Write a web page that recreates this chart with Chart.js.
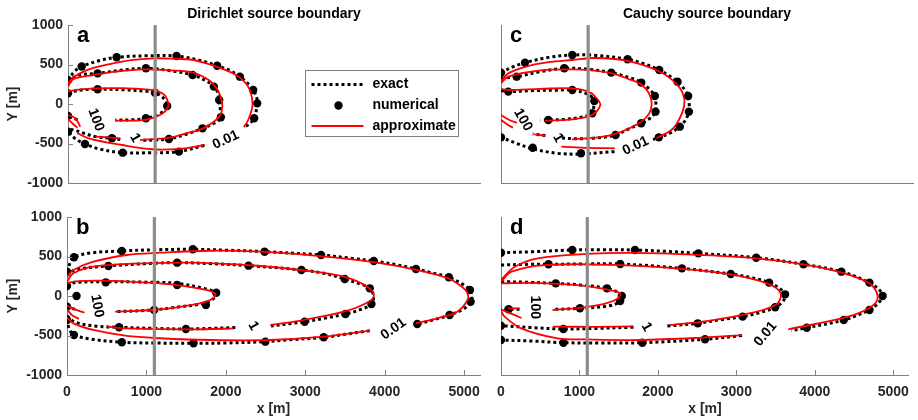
<!DOCTYPE html>
<html>
<head>
<meta charset="utf-8">
<script src="https://cdn.jsdelivr.net/npm/chart.js@4.4.1/dist/chart.umd.min.js"></script>
<style>
body{margin:0;background:#fff;width:918px;height:420px;position:relative;overflow:hidden}
canvas{position:absolute}
</style>
</head>
<body>
<canvas id="pa" width="490" height="200" style="left:0;top:0"></canvas>
<canvas id="pc" width="438" height="200" style="left:480px;top:0"></canvas>
<canvas id="pb" width="490" height="220" style="left:0;top:200px"></canvas>
<canvas id="pd" width="438" height="220" style="left:480px;top:200px"></canvas>
<script>
// axes
var xTicks=[0,1000,2000,3000,4000,5000];
var yTicks=[-1000,-500,0,500,1000];
var sourceX=1100;

// panel a : Dirichlet, short plume
var aExact001=[[0,300],[80,410],[173,475],[400,550],[614,591],[1000,610],[1370,607],[1650,555],[1883,485],[2050,420],[2169,346],[2280,250],[2337,177],[2380,90],[2388,8],[2375,-90],[2350,-181],[2290,-250],[2220,-300],null,[1720,-525],[1400,-603],[1000,-618],[690,-616],[400,-570],[214,-506],[80,-430],[0,-350]];
var aDots001=[[0,304],[173,475],[614,591],[1370,607],[1883,485],[2169,346],[2337,177],[2388,8],[2350,-181],[1400,-603],[690,-616],[214,-506],[0,-350]];
var aApprox001=[[0,262],[60,330],[151,388],[300,450],[530,506],[800,555],[1076,578],[1300,575],[1580,557],[1850,480],[2085,388],[2220,290],[2295,177],[2329,-13],[2274,-203],[2219,-295],null,[1728,-519],[1437,-565],[1059,-573],[681,-519],[260,-434],[114,-367]];
var aExact1=[[0,280],[120,360],[374,388],[700,430],[984,452],[1300,420],[1572,367],[1750,290],[1841,220],[1900,130],[1908,51],[1920,-50],[1929,-168],[1850,-240],[1698,-308],[1500,-380],[1274,-443],[1100,-455],[920,-460],null,[660,-450],[555,-434],[345,-413],[200,-370],[80,-330],[0,-320]];
var aDots1=[[374,388],[984,452],[1572,367],[1841,220],[1908,51],[1929,-168],[1698,-308],[1274,-443],[555,-434]];
var aApprox1=[[0,220],[67,313],[319,367],[600,410],[950,439],[1300,425],[1580,397],[1780,300],[1875,199],[1946,9],[1908,-160],[1706,-308],[1500,-370],[1286,-426],[908,-456],null,[660,-434],[345,-413]];
var aExact100=[[0,135],[150,175],[374,186],[700,180],[1000,160],[1097,143],[1200,80],[1252,-25],[1150,-130],[984,-181],[800,-200],[597,-203],null,[120,-200],[0,-150]];
var aDots100=[[0,135],[374,186],[1097,143],[1252,-25],[984,-181],[0,-150]];
var aApprox100=[[0,157],[100,180],[374,199],[700,200],[1076,177],[1200,130],[1245,72],[1265,-34],[1160,-139],[950,-203],[593,-211],null,[0,-139],[92,-181],[155,-287],null,[0,-190],[60,-250],[120,-300]];
var aLabels=[["100",353,-200,70],["1",845,-430,60],["0.01",1992,-456,-25]];

// panel c : Cauchy, short plume
var cExact001=[[0,396],[150,470],[303,523],[600,590],[900,620],[1200,615],[1598,566],[1800,510],[1997,430],[2130,350],[2228,282],[2320,180],[2362,101],[2375,0],[2371,-97],[2330,-200],[2257,-287],[2130,-370],[1992,-422],[1920,-450],null,[1433,-603],[1013,-633],[719,-625],[405,-569],[200,-500],[0,-422]];
var cDots001=[[0,396],[303,523],[900,620],[1598,566],[1997,430],[2228,282],[2362,101],[2371,-97],[2257,-287],[1992,-422],[1009,-624],[400,-553],[0,-422]];
var cApprox001=[[0,282],[92,388],[345,481],[600,530],[896,557],[1190,582],[1606,544],[2005,409],[2228,240],[2312,72],[2291,-97],[2173,-308],[1963,-434],null,[1437,-561],[1100,-555],[762,-540]];
var cExact1=[[0,325],[198,346],[500,410],[799,452],[1100,440],[1392,397],[1600,340],[1770,271],[1880,180],[1942,101],[1955,0],[1950,-97],[1880,-180],[1770,-244],[1600,-320],[1446,-392],[1200,-430],[950,-440],[760,-430],null,[560,-400],[400,-380]];
var cDots1=[[198,346],[799,452],[1392,397],[1770,271],[1942,101],[1950,-97],[1770,-244],[1446,-392]];
var cApprox1=[[0,262],[92,346],[471,423],[896,439],[1150,425],[1400,388],[1600,320],[1778,240],[1892,72],[1871,-118],[1702,-266],[1400,-392],[1150,-430],[896,-447],null,[560,-400],[420,-385]];
var cExact100=[[0,170],[92,157],[400,170],[700,175],[900,177],[1100,120],[1178,38],[1170,-40],[1152,-118],[1000,-170],[800,-195],[597,-203],[500,-205]];
var cDots100=[[92,157],[900,177],[1178,38],[1152,-118],[597,-203]];
var cApprox100=[[0,190],[92,177],[500,192],[896,199],[1100,160],[1190,92],[1253,-13],[1148,-139],[896,-194],[555,-211],null,[0,-140],[100,-200],[200,-240],null,[0,-200],[80,-260],[150,-300]];
var cLabels=[["100",278,-203,60],["1",720,-430,60],["0.01",1700,-532,-25]];

// panel b : Dirichlet, long plume
var bExact001=[[0,308],[40,420],[88,490],[300,545],[690,570],[1100,585],[1585,591],[2000,580],[2488,561],[3199,519],[3600,475],[3863,443],[4150,395],[4394,342],[4650,280],[4808,237],[4980,150],[5073,76],[5100,0],[5082,-72],[5000,-160],[4817,-241],[4600,-305],[4410,-354],[4376,-360],null,[3812,-439],[3500,-485],[3232,-523],[2800,-555],[2497,-578],[2000,-595],[1593,-599],[1100,-595],[690,-586],[300,-545],[88,-494],[30,-420],[0,-304]];
var bDots001=[[0,308],[88,490],[690,570],[1585,591],[2488,561],[3199,519],[3863,443],[4394,342],[4808,237],[5073,76],[5082,-72],[4817,-241],[4410,-354],[3232,-523],[2497,-578],[1593,-599],[690,-586],[88,-494],[0,-304]];
var bApprox001=[[0,245],[80,329],[333,434],[753,519],[1173,548],[1804,573],[2434,561],[3190,506],[3863,430],[4410,329],[4808,220],[4980,110],[5043,34],[5043,-51],[4914,-199],[4662,-282],[4389,-346],null,[3812,-439],[3232,-515],[2560,-557],[1804,-557],[1173,-535],[753,-506],[333,-430],[80,-346],[0,-270]];
var bExact1=[[0,260],[100,330],[521,380],[1000,410],[1387,422],[1800,410],[2286,384],[2951,329],[3250,285],[3497,215],[3700,150],[3812,97],[3860,0],[3833,-101],[3700,-170],[3506,-228],[3250,-280],[2992,-325],[2800,-350],[2569,-380],null,[2119,-400],[1800,-410],[1497,-418],[1100,-410],[656,-396],[350,-380],[100,-330],[0,-250]];
var bDots1=[[521,380],[1387,422],[2286,384],[2951,329],[3497,215],[3812,97],[3833,-101],[3506,-228],[2992,-325],[1497,-418],[656,-396]];
var bApprox1=[[0,181],[80,287],[333,371],[963,413],[1594,422],[2434,380],[2938,329],[3485,244],[3780,118],[3863,13],[3800,-72],[3485,-199],[2976,-304],[2560,-367],null,[2098,-409],[1594,-422],[753,-409],[501,-388]];
var bExact100=[[0,130],[100,170],[467,181],[1000,175],[1383,160],[1719,97],[1870,42],[1849,-29],[1719,-92],[1400,-140],[1076,-177],[605,-199],null,[100,-170],[0,-135]];
var bDots100=[[0,127],[488,173],[1387,139],[1879,42],[1749,-114],[1097,-177],[120,0],[0,-135]];
var bApprox100=[[0,160],[100,185],[458,194],[1000,170],[1383,139],[1753,76],[1870,13],[1753,-72],[1383,-143],[1076,-177],[605,-199],null,[0,-120],[100,-170],[220,-210],null,[0,-170],[60,-240],[150,-290]];
var bLabels=[["100",378,-127,80],["1",2345,-380,60],["0.01",4111,-418,-35]];

// panel d : Cauchy, long plume
var dExact001=[[0,548],[400,560],[909,582],[1300,585],[1708,582],[2100,565],[2516,540],[3253,485],[3855,401],[4339,308],[4697,169],[4820,80],[4865,0],[4800,-100],[4697,-177],[4369,-304],[3898,-401],[3700,-440],null,[3073,-500],[2601,-548],[1802,-591],[1300,-595],[795,-591],[400,-570],[0,-557]];
var dDots001=[[0,548],[909,582],[1708,582],[2516,540],[3253,485],[3855,401],[4339,308],[4697,169],[4865,0],[4697,-177],[4369,-304],[3898,-401],[2601,-548],[1802,-591],[795,-591],[0,-557]];
var dApprox001=[[0,203],[177,371],[471,477],[1098,532],[1688,545],[2500,520],[3257,477],[3855,401],[4298,308],[4697,160],[4802,-8],[4718,-135],[4424,-261],[3662,-422],null,[3073,-494],[2500,-530],[1769,-557],[1100,-550],[720,-535],[256,-409],[46,-261],[0,-190]];
var dExact1=[[0,392],[300,400],[606,401],[1000,405],[1520,405],[2306,350],[2929,278],[3200,230],[3418,169],[3560,90],[3621,21],[3600,-60],[3495,-143],[3300,-210],[3081,-261],[2800,-300],[2508,-346],[2109,-380],null,[1688,-395],[1200,-410],[795,-418],[400,-400],[0,-376]];
var dDots1=[[606,401],[1520,405],[2306,350],[2929,278],[3418,169],[3621,21],[3495,-143],[3081,-261],[2508,-346],[795,-418],[0,-376]];
var dApprox1=[[0,180],[135,308],[555,392],[1519,392],[2300,345],[2913,278],[3393,160],[3565,34],[3500,-114],[3073,-240],[2600,-320],[2150,-367],null,[1688,-385],[1200,-390],[660,-388]];
var dExact100=[[0,181],[300,175],[698,160],[1000,140],[1351,97],[1500,40],[1540,0],[1519,-63],[1400,-120],[1006,-156],[657,-170],null,[236,-168],[97,-168],[0,-168]];
var dDots100=[[698,160],[1351,97],[1540,0],[1519,-63],[1006,-156],[97,-168]];
var dApprox100=[[0,160],[400,165],[800,150],[1140,118],[1400,70],[1519,34],[1490,-30],[1350,-90],[1057,-143],[657,-177],null,[88,-156],[236,-156],null,[0,-170],[120,-220],[262,-278]];
var dLabels=[["100",433,-143,90],["1",1856,-392,60],["0.01",3371,-481,-50]];

var FONT='"Liberation Sans", Arial, Helvetica, sans-serif';
var AXIS='#808080';
var TXT='#262626';

function pts(arr){
  return arr.map(function(p){ return p ? {x:p[0],y:p[1]} : {x:null,y:null}; });
}

function redLine(d){ return {data:pts(d),showLine:true,borderColor:'#ff0000',borderWidth:1.8,pointRadius:0,tension:0.35}; }
function dotted(d){ return {data:pts(d),showLine:true,borderColor:'#000',borderWidth:3,borderDash:[3,3],pointRadius:0,tension:0.35}; }
function dots(d){ return {data:pts(d),showLine:false,pointRadius:4.2,pointBackgroundColor:'#000',pointBorderWidth:0}; }

var decor={
  id:'decor',
  afterDatasetsDraw:function(chart){
    var o=chart.options.plugins.decor, ctx=chart.ctx, ca=chart.chartArea;
    var xs=chart.scales.x, ys=chart.scales.y;
    ctx.save();
    // inward tick marks
    ctx.strokeStyle=AXIS; ctx.lineWidth=1;
    if(o.yTicks){
      yTicks.forEach(function(v){
        var py=Math.round(ys.getPixelForValue(v))+0.5;
        ctx.beginPath(); ctx.moveTo(ca.left,py); ctx.lineTo(ca.left+5,py); ctx.stroke();
      });
    }
    if(o.xTicks){
      xTicks.forEach(function(v){
        var px=Math.round(xs.getPixelForValue(v))+0.5;
        ctx.beginPath(); ctx.moveTo(px,ca.bottom); ctx.lineTo(px,ca.bottom-5); ctx.stroke();
      });
    }
    // panel letter
    ctx.fillStyle='#000';
    ctx.font='bold 22px '+FONT;
    ctx.textAlign='left'; ctx.textBaseline='alphabetic';
    ctx.fillText(o.letter,ca.left+9,ca.top+17);
    // title
    if(o.title){
      ctx.font='bold 14px '+FONT;
      ctx.textAlign='center'; ctx.textBaseline='middle';
      ctx.fillText(o.title,(ca.left+ca.right)/2,14);
    }
    // contour labels
    ctx.font='bold 14px '+FONT;
    ctx.textAlign='center'; ctx.textBaseline='middle';
    o.labels.forEach(function(l){
      ctx.save();
      ctx.translate(xs.getPixelForValue(l[1]),ys.getPixelForValue(l[2]));
      ctx.rotate(l[3]*Math.PI/180);
      ctx.fillText(l[0],0,0);
      ctx.restore();
    });
    // legend
    if(o.legend){
      var lx=305.5, ly=70.5;
      ctx.fillStyle='#fff'; ctx.fillRect(lx,ly,153,66);
      ctx.strokeStyle=AXIS; ctx.strokeRect(lx,ly,153,66);
      ctx.strokeStyle='#000'; ctx.lineWidth=3; ctx.setLineDash([3,3]);
      ctx.beginPath(); ctx.moveTo(lx+6,ly+14); ctx.lineTo(lx+59,ly+14); ctx.stroke();
      ctx.setLineDash([]);
      ctx.fillStyle='#000';
      ctx.beginPath(); ctx.arc(lx+33,ly+35,4.2,0,Math.PI*2); ctx.fill();
      ctx.strokeStyle='#ff0000'; ctx.lineWidth=1.8;
      ctx.beginPath(); ctx.moveTo(lx+6,ly+55.5); ctx.lineTo(lx+58,ly+55.5); ctx.stroke();
      ctx.font='bold 14px '+FONT; ctx.textAlign='left'; ctx.textBaseline='middle';
      ctx.fillText('exact',lx+67,ly+14);
      ctx.fillText('numerical',lx+67,ly+35);
      ctx.fillText('approximate',lx+67,ly+55.5);
    }
    ctx.restore();
  }
};

function panel(id,cfg){
  var sets=[
    {data:[{x:sourceX,y:-1000},{x:sourceX,y:1000}],showLine:true,borderColor:'#8c8c8c',borderWidth:3.2,pointRadius:0}
  ];
  cfg.approx.forEach(function(d){ sets.push(redLine(d)); });
  cfg.dots.forEach(function(d){ sets.push(dots(d)); });
  cfg.exact.forEach(function(d){ sets.push(dotted(d)); });
  new Chart(document.getElementById(id),{
    type:'scatter',
    data:{datasets:sets},
    options:{
      responsive:false,
      animation:false,
      layout:{padding:{left:0,right:cfg.padRight,top:cfg.padTop,bottom:0}},
      plugins:{
        legend:{display:false},
        tooltip:{enabled:false},
        decor:{letter:cfg.letter,title:cfg.title,labels:cfg.labels,legend:cfg.legend,xTicks:cfg.showX,yTicks:cfg.showY}
      },
      scales:{
        x:{
          type:'linear',min:0,max:5200,
          afterBuildTicks:function(s){ s.ticks=xTicks.map(function(v){return {value:v};}); },
          afterFit:function(s){ s.height=cfg.xH; },
          grid:{display:false,drawTicks:false},
          border:{display:true,color:AXIS,width:1},
          ticks:{display:cfg.showX,color:TXT,padding:9,maxRotation:0,autoSkip:false,font:{family:FONT,size:14,weight:'bold'},callback:function(v){return String(v);}},
          title:{display:cfg.showX,text:'x [m]',color:TXT,font:{family:FONT,size:14,weight:'bold'},padding:{top:0,bottom:2}}
        },
        y:{
          type:'linear',min:-1000,max:1000,
          afterBuildTicks:function(s){ s.ticks=yTicks.map(function(v){return {value:v};}); },
          afterFit:function(s){ s.width=cfg.yW; },
          grid:{display:false,drawTicks:false},
          border:{display:true,color:AXIS,width:1},
          ticks:{display:cfg.showY,color:TXT,padding:5,font:{family:FONT,size:14,weight:'bold'},callback:function(v){return String(v);}},
          title:{display:cfg.showY,text:'Y [m]',color:TXT,font:{family:FONT,size:14,weight:'bold'},padding:{top:5,bottom:0}}
        }
      }
    },
    plugins:[decor]
  });
}

panel('pa',{letter:'a',title:'Dirichlet source boundary',legend:true,showX:false,showY:true,yW:68,xH:17,padRight:10,padTop:25,
  exact:[aExact001,aExact1,aExact100],dots:[aDots001,aDots1,aDots100],approx:[aApprox001,aApprox1,aApprox100],labels:aLabels});
panel('pc',{letter:'c',title:'Cauchy source boundary',legend:false,showX:false,showY:false,yW:21,xH:17,padRight:5,padTop:25,
  exact:[cExact001,cExact1,cExact100],dots:[cDots001,cDots1,cDots100],approx:[cApprox001,cApprox1,cApprox100],labels:cLabels});
panel('pb',{letter:'b',title:null,legend:false,showX:true,showY:true,yW:67,xH:45,padRight:10,padTop:17,
  exact:[bExact001,bExact1,bExact100],dots:[bDots001,bDots1,bDots100],approx:[bApprox001,bApprox1,bApprox100],labels:bLabels});
panel('pd',{letter:'d',title:null,legend:false,showX:true,showY:false,yW:21,xH:45,padRight:5,padTop:17,
  exact:[dExact001,dExact1,dExact100],dots:[dDots001,dDots1,dDots100],approx:[dApprox001,dApprox1,dApprox100],labels:dLabels});
</script>
</body>
</html>
